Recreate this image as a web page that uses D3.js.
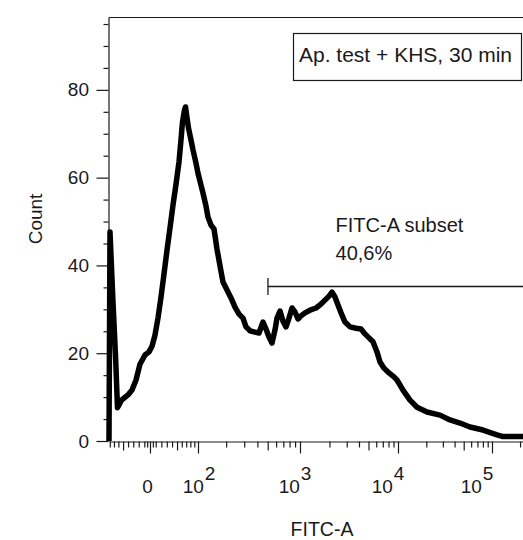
<!DOCTYPE html>
<html>
<head>
<meta charset="utf-8">
<script src="https://cdn.jsdelivr.net/npm/d3@7/dist/d3.min.js"></script>
<style>
  html, body { margin: 0; padding: 0; background: #fff; }
  svg { display: block; }
  text { font-family: "Liberation Sans", Arial, sans-serif; fill: #1a1a1a; }
</style>
</head>
<body>
<svg id="chart" width="523" height="540"></svg>
<script>
// ---- data (FITC-A value, count) ----
const fitcValues = [-82, -79.5, -72.3, -66.5, -62.0, -53.3, -40.1, -32.4, -24.9, -17.7, -8.8, -1.75,
  3.5, 8.7, 14.0, 19.4, 24.8, 30.4, 36.0, 41.9, 47.9, 54.1, 58.3, 61.6, 66.1, 68.4, 71.9, 75.4,
  81.5, 86.6, 94.5, 100, 108.4, 114.2, 123.4, 129.8, 139.8, 150.4, 161.6, 177.5, 186, 204,
  223.4, 244.4, 267.3, 292, 312, 340.6, 379.9, 414.4, 451.9, 482.2, 514.4, 548.7, 585.3, 611,
  651.8, 695.1, 741.2, 790.4, 842.9, 898.6, 958.2, 1024, 1125, 1266, 1458, 1639, 1801, 1978,
  2123, 2278, 2444, 2623, 2881, 3239, 3730, 4195, 4608, 5062, 5561, 6108, 6554, 7199, 8096,
  9104, 9768, 11304, 13418, 15928, 20344, 27984, 35743, 45658, 58324, 80240, 113200, 131280,
  168040, 215120, 262144];
const counts = [0, 47.6, 31.7, 19.6, 7.6, 9.3, 10.5, 11.6, 13.9, 17.5, 19.6, 20.3,
  21.6, 24.1, 28.0, 32.8, 38.0, 43.5, 48.5, 53.8, 58.5, 63.6, 68.6, 72.7, 75.4, 76.1, 73.6, 71.3,
  68.6, 66.3, 63.3, 61.0, 58.3, 56.5, 53.5, 51.0, 49.2, 48.3, 43.7, 38.7, 36.2, 34.4,
  32.6, 30.5, 28.9, 28.0, 26.0, 25.1, 24.8, 24.6, 27.1, 25.5, 23.7, 22.3, 25.3, 28.0,
  29.6, 27.3, 26.0, 28.0, 30.3, 29.4, 27.8, 28.5, 29.2, 29.8, 30.3, 31.2, 32.1, 33.0,
  33.9, 32.8, 31.0, 29.2, 27.1, 26.0, 25.7, 25.5, 24.4, 23.5, 22.6, 20.3, 18.0, 16.6, 15.5,
  14.6, 13.9, 11.6, 9.3, 7.7, 6.6, 5.9, 4.8, 4.1, 3.2, 2.5, 1.4, 1.0,
  1.0, 1.0, 1.0];

// axis ticks / labels
const xMajorTicks = [0, 100, 1000, 10000, 100000];
const xLabelBase = ["0", "10", "10", "10", "10"];
const xLabelExp = ["", "2", "3", "4", "5"];
const xMediumTicks = [-50, 50, 500, 5000, 50000];
const xMinorTicks = [-80, -70, -60, -40, -30, -20, -10, -5, 5, 10, 20, 30, 40, 60, 70, 80, 90,
  200, 300, 400, 600, 700, 800, 900, 2000, 3000, 4000, 6000, 7000, 8000, 9000,
  20000, 30000, 40000, 60000, 70000, 80000, 90000, 200000];
const yMajorTicks = [0, 20, 40, 60, 80];
const yMinorTicks = [5, 10, 15, 25, 30, 35, 45, 50, 55, 65, 70, 75, 85, 90, 95];

const xDomain = [-82, 262144];
const yDomain = [0, 96.6];
const gateRange = [503, 262144];
const gateLevel = 35.3;
const gateName = "FITC-A subset";
const gatePct = "40,6%";
const legendText = "Ap. test + KHS, 30 min";
const xTitle = "FITC-A";
const yTitle = "Count";

// ---- scales ----
// logicle-like display: asinh transform, piecewise-linear per decade
const W = 80;
const T = v => Math.asinh(v / W);
const xBreaks = [xDomain[0], 0, 100, 1000, 10000, 100000, xDomain[1]];
const xT = d3.scaleLinear().domain(xBreaks.map(T)).range([109, 150, 198, 300, 398, 492, 531]);
const x = v => xT(T(v));
const y = d3.scaleLinear().domain(yDomain).range([441, 17]);

const svg = d3.select("#chart");
const ink = "#1a1a1a";

// frame: top border
svg.append("line").attr("x1", x(xDomain[0])).attr("x2", x(xDomain[1]))
  .attr("y1", y(yDomain[1]) + 0.5).attr("y2", y(yDomain[1]) + 0.5)
  .attr("stroke", ink).attr("stroke-width", 1.2);

// x axis (three tick sizes)
function xAxis(vals, size, showDomain) {
  const g = svg.append("g").attr("transform", `translate(0,${y(0) + 0.5})`)
    .call(d3.axisBottom(xT).tickValues(vals.map(T)).tickSize(size).tickSizeOuter(0).tickFormat(""));
  g.selectAll(".tick line").attr("stroke", ink).attr("stroke-width", 1.2);
  if (!showDomain) g.select(".domain").remove();
  else g.select(".domain").attr("stroke", ink).attr("stroke-width", 1.2);
  return g;
}
xAxis(xMinorTicks, 6, true);
xAxis(xMediumTicks, 9, false);
xAxis(xMajorTicks, 12, false);

// y axis
function yAxis(vals, size, showDomain) {
  const g = svg.append("g").attr("transform", `translate(${x(xDomain[0]) - 0.5},0)`)
    .call(d3.axisLeft(y).tickValues(vals).tickSize(size).tickSizeOuter(0).tickFormat(""));
  g.selectAll(".tick line").attr("stroke", ink).attr("stroke-width", 1.2);
  if (!showDomain) g.select(".domain").remove();
  else g.select(".domain").attr("stroke", ink).attr("stroke-width", 1.2);
  return g;
}
yAxis(yMinorTicks, 5, true);
yAxis(yMajorTicks, 12, false);

// y tick labels
svg.append("g").selectAll("text").data(yMajorTicks).join("text")
  .attr("x", x(xDomain[0]) - 20).attr("y", d => y(d) + 6.5)
  .attr("text-anchor", "end").attr("font-size", 19).text(d => d);

// x tick labels (superscripted powers)
const labelShift = [-2.5, 1, -5, -10, -15];
const xl = svg.append("g").selectAll("text").data(xMajorTicks).join("text")
  .attr("x", (d, i) => x(d) + labelShift[i]).attr("y", 493)
  .attr("text-anchor", "middle").attr("font-size", 19);
xl.append("tspan").text((d, i) => xLabelBase[i]);
xl.append("tspan").attr("dy", -13).attr("dx", 1).text((d, i) => xLabelExp[i]);

// axis titles
svg.append("text").attr("x", 322).attr("y", 536).attr("text-anchor", "middle")
  .attr("font-size", 19.5).text(xTitle);
svg.append("text").attr("transform", "translate(42,219) rotate(-90)")
  .attr("text-anchor", "middle").attr("font-size", 19).text(yTitle);

// histogram curve
const pts = fitcValues.map((v, i) => [v, counts[i]]);
svg.append("path").datum(pts)
  .attr("d", d3.line().x(d => x(d[0])).y(d => y(d[1])))
  .attr("fill", "none").attr("stroke", "#000").attr("stroke-width", 5.5)
  .attr("stroke-linejoin", "round").attr("stroke-linecap", "butt");

// gate
const gy = Math.round(y(gateLevel)) + 0.5;
const gx0 = x(gateRange[0]), gx1 = x(gateRange[1]);
svg.append("line").attr("x1", gx0).attr("x2", gx1).attr("y1", gy).attr("y2", gy)
  .attr("stroke", ink).attr("stroke-width", 1.3);
svg.append("line").attr("x1", gx0).attr("x2", gx0).attr("y1", gy - 8.5).attr("y2", gy + 8.5)
  .attr("stroke", ink).attr("stroke-width", 1.3);
const gl1 = svg.append("text").attr("x", (gx0 + gx1) / 2).attr("y", gy - 55)
  .attr("text-anchor", "middle").attr("font-size", 20).text(gateName);
const w1 = gl1.node().getComputedTextLength();
svg.append("text").attr("x", (gx0 + gx1) / 2 - w1 / 2).attr("y", gy - 27)
  .attr("font-size", 20).text(gatePct);

// legend box
svg.append("rect").attr("x", 293.5).attr("y", 33.5).attr("width", 228).attr("height", 47)
  .attr("fill", "#fff").attr("stroke", ink).attr("stroke-width", 1.2);
svg.append("text").attr("x", 299).attr("y", 62).attr("font-size", 21).text(legendText);
</script>
</body>
</html>
